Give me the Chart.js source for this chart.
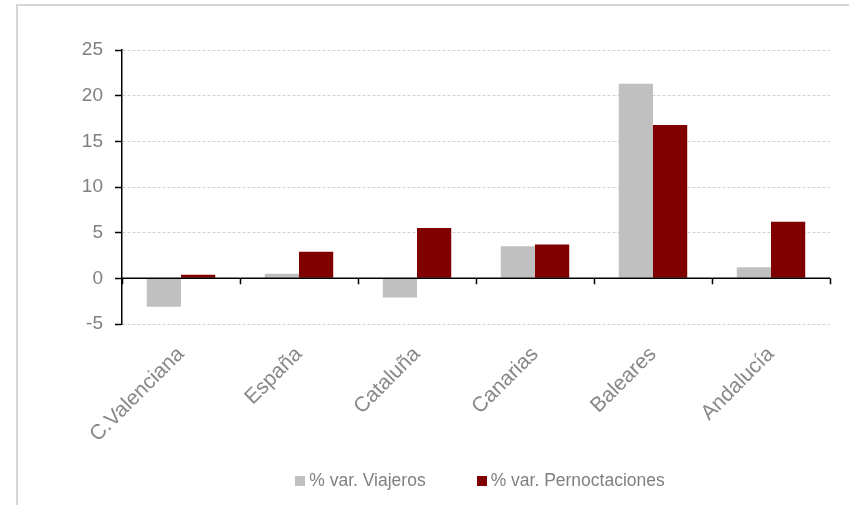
<!DOCTYPE html>
<html>
<head>
<meta charset="utf-8">
<script src="https://cdn.jsdelivr.net/npm/chart.js@4/dist/chart.umd.min.js"></script>
<style>
  html, body { margin: 0; padding: 0; background: #ffffff; }
  #wrap { position: relative; width: 849px; height: 505px; overflow: hidden; }
  #c { position: absolute; left: 0; top: 0; }
  #frame { position: absolute; left: 16px; top: 4px; width: 840px; height: 510px;
           border-top: 2px solid #d6d6d6; border-left: 2px solid #d6d6d6; pointer-events: none; }
</style>
</head>
<body>
<div id="wrap">
  <canvas id="c" width="849" height="505"></canvas>
  <div id="frame"></div>
</div>
<script>
const categories = ["C.Valenciana", "España", "Cataluña", "Canarias", "Baleares", "Andalucía"];
const viajeros = [-3.1, 0.5, -2.1, 3.5, 21.3, 1.2];
const pernoctaciones = [0.4, 2.9, 5.5, 3.7, 16.8, 6.2];
const seriesNames = ["% var. Viajeros", "% var. Pernoctaciones"];
const yTicks = [-5, 0, 5, 10, 15, 20, 25];

const FONT = "'Liberation Sans', Arial, sans-serif";

const zeroLine = {
  id: 'zeroLine',
  afterDatasetsDraw(chart) {
    const {ctx, chartArea, scales: {x, y}} = chart;
    const y0 = y.getPixelForValue(0);
    ctx.save();
    ctx.strokeStyle = '#000000';
    ctx.lineWidth = 1.5;
    ctx.beginPath();
    ctx.moveTo(chartArea.left, y0);
    ctx.lineTo(chartArea.right, y0);
    const n = categories.length;
    for (let i = 0; i <= n; i++) {
      const px = Math.round(x.left + i * (x.width / n)) + 0.5;
      ctx.moveTo(px, y0);
      ctx.lineTo(px, y0 + 6);
    }
    ctx.stroke();
    ctx.restore();
  }
};

const bottomLegend = {
  id: 'bottomLegend',
  afterDraw(chart) {
    const {ctx, chartArea} = chart;
    const box = 10, gapText = 4, gapItem = 51;
    ctx.save();
    ctx.font = "17.5px " + FONT;
    ctx.textBaseline = 'middle';
    ctx.textAlign = 'left';
    const items = chart.data.datasets.map(ds => ({ text: ds.label, color: ds.backgroundColor, w: ctx.measureText(ds.label).width }));
    let total = 0;
    items.forEach((it, i) => { total += box + gapText + it.w + (i < items.length - 1 ? gapItem : 0); });
    let x = (chartArea.left + chartArea.right) / 2 + 4 - total / 2;
    const yc = chart.height - 24;
    items.forEach(it => {
      ctx.fillStyle = it.color;
      ctx.fillRect(Math.round(x), Math.round(yc - box / 2), box, box);
      x += box + gapText;
      ctx.fillStyle = '#808080';
      ctx.fillText(it.text, x, yc);
      x += it.w + gapItem;
    });
    ctx.restore();
  }
};

new Chart(document.getElementById('c'), {
  type: 'bar',
  data: {
    labels: categories,
    datasets: [
      { label: seriesNames[0], data: viajeros, backgroundColor: '#c0c0c0', borderWidth: 0 },
      { label: seriesNames[1], data: pernoctaciones, backgroundColor: '#800000', borderWidth: 0 }
    ]
  },
  options: {
    responsive: false,
    animation: false,
    devicePixelRatio: 1,
    layout: { padding: { left: 0, right: 19, top: 50, bottom: 0 } },
    datasets: { bar: { categoryPercentage: 0.58, barPercentage: 1.0 } },
    plugins: {
      tooltip: { enabled: false },
      legend: { display: false }
    },
    scales: {
      x: {
        grid: { display: false },
        border: { display: false },
        ticks: {
          color: '#888888',
          font: { family: FONT, size: 21 },
          maxRotation: 45,
          minRotation: 45,
          padding: 10
        },
        afterFit(scale) { scale.height = 181; }
      },
      y: {
        min: -5,
        max: 25,
        afterBuildTicks(scale) { scale.ticks = yTicks.map(v => ({ value: v })); },
        grid: {
          color: '#d0d0d0',
          lineWidth: 1,
          drawTicks: true,
          tickLength: 7,
          tickColor: '#000000',
          tickWidth: 1.5,
          tickBorderDash: []
        },
        border: { display: true, color: '#000000', width: 1.5, dash: [3, 2] },
        ticks: {
          color: '#808080',
          font: { family: FONT, size: 19 },
          padding: 12
        },
        afterFit(scale) { scale.width = 122; }
      }
    }
  },
  plugins: [zeroLine, bottomLegend]
});
</script>
</body>
</html>
